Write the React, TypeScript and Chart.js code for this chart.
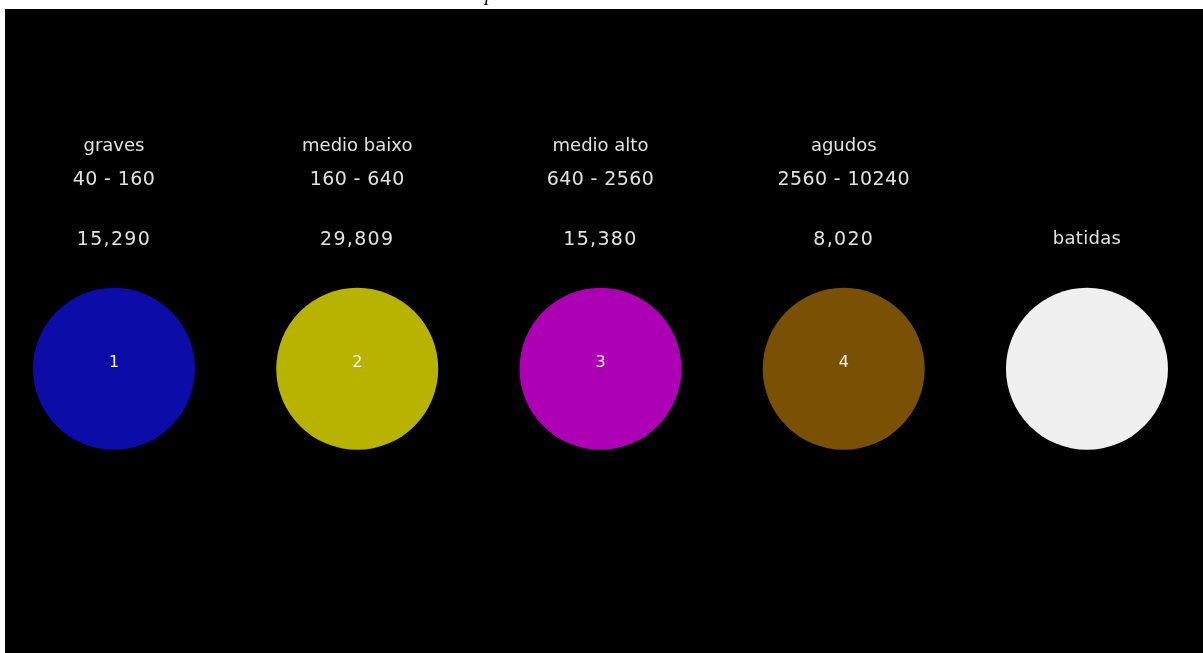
import React, { useEffect, useRef } from "react";
import { Chart, registerables } from "chart.js";

Chart.register(...registerables);

const bandNames = ["graves", "medio baixo", "medio alto", "agudos", "batidas"];
const bandRanges = ["40 - 160", "160 - 640", "640 - 2560", "2560 - 10240", ""];
const bandValues = ["15,290", "29,809", "15,380", "8,020", ""];
const bandNumbers = ["1", "2", "3", "4", ""];
const bandColors = ["#0c0ca8", "#b8b300", "#ad00b5", "#7a5004", "#f0f0f0"];
const xPositions = [0, 1, 2, 3, 4];

const labelPlugin = {
  id: "bandLabels",
  afterDatasetsDraw(chart: any) {
    const ctx = chart.ctx;
    const meta = chart.getDatasetMeta(0);
    ctx.save();
    ctx.textAlign = "center";
    ctx.textBaseline = "middle";
    meta.data.forEach((pt: any, i: number) => {
      const cx = pt.x;
      const cy = pt.y;
      ctx.fillStyle = "#e2e2e2";
      ctx.font = "18px 'DejaVu Sans'";
      ctx.letterSpacing = "0px";
      if (bandRanges[i]) {
        ctx.fillText(bandNames[i], cx, cy - 222);
        ctx.font = "19px 'DejaVu Sans'";
        ctx.letterSpacing = "0.4px";
        ctx.fillText(bandRanges[i], cx, cy - 189);
      }
      if (bandValues[i]) {
        ctx.font = "19px 'DejaVu Sans'";
        ctx.letterSpacing = "1.3px";
        ctx.fillText(bandValues[i], cx, cy - 129);
      } else {
        ctx.font = "18px 'DejaVu Sans'";
        ctx.letterSpacing = "0.3px";
        ctx.fillText(bandNames[i], cx, cy - 129);
      }
      if (bandNumbers[i]) {
        ctx.fillStyle = "#f4f4f4";
        ctx.font = "16px 'DejaVu Sans'";
        ctx.letterSpacing = "0px";
        ctx.fillText(bandNumbers[i], cx, cy - 6);
      }
    });
    ctx.restore();
  },
};

export default function App() {
  const ref = useRef<HTMLCanvasElement | null>(null);
  useEffect(() => {
    if (!ref.current) return;
    const chart = new Chart(ref.current, {
      type: "scatter",
      data: {
        datasets: [
          {
            data: xPositions.map((x) => ({ x, y: 0 })),
            backgroundColor: bandColors,
            borderWidth: 0,
            pointRadius: 81,
            pointHoverRadius: 81,
          },
        ],
      },
      options: {
        animation: false,
        responsive: true,
        maintainAspectRatio: false,
        layout: { padding: 0, autoPadding: false },
        plugins: { legend: { display: false }, tooltip: { enabled: false } },
        events: [],
        scales: {
          x: { type: "linear", min: -0.448, max: 4.477, display: false },
          y: { type: "linear", min: -0.79, max: 1, display: false },
        },
      },
      plugins: [labelPlugin],
    });
    return () => chart.destroy();
  }, []);
  return (
    <>
      <div
        style={{
          position: "fixed",
          left: 485,
          top: -17,
          fontFamily: "'Liberation Serif', serif",
          fontStyle: "italic",
          fontSize: 20,
          lineHeight: "20px",
          color: "#000",
        }}
      >
        p
      </div>
      <div
        style={{
          position: "fixed",
          left: 5,
          top: 9,
          width: 1198,
          height: 644,
          background: "#000",
        }}
      >
        <canvas ref={ref} />
      </div>
    </>
  );
}
